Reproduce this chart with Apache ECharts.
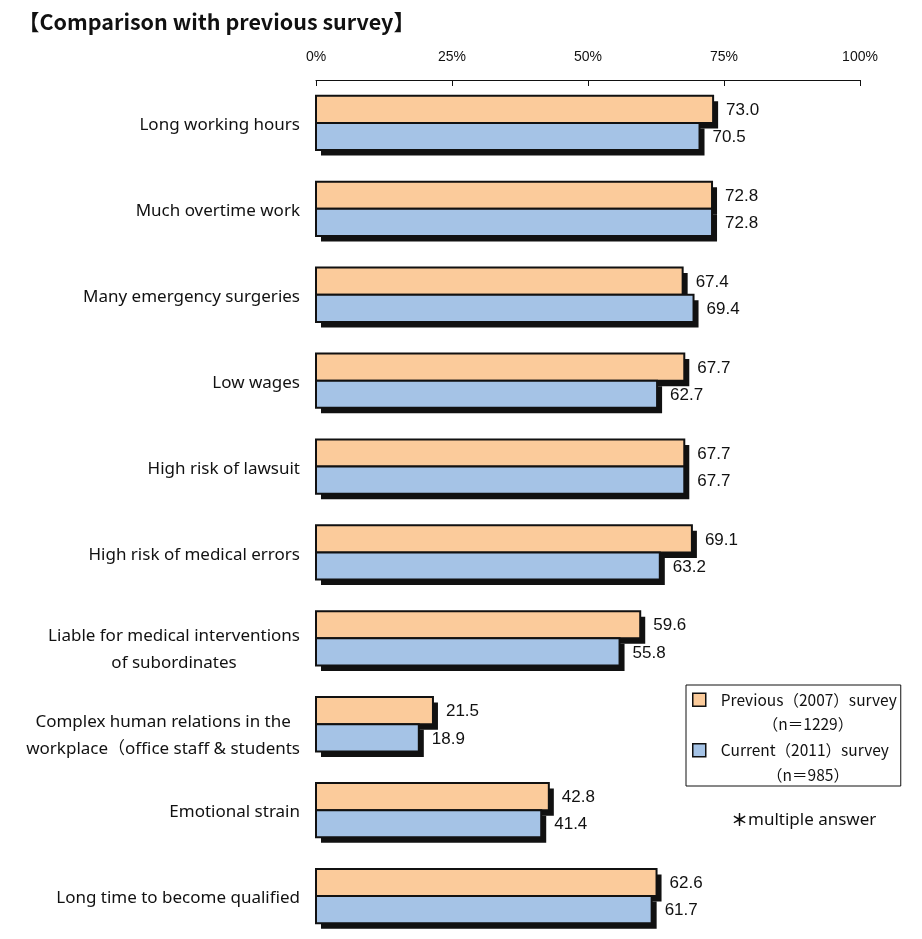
<!DOCTYPE html>
<html>
<head>
<meta charset="utf-8">
<script src="https://cdn.jsdelivr.net/npm/echarts@6/dist/echarts.min.js"></script>
<style>html,body{margin:0;padding:0;background:#fff;}#c{width:922px;height:939px;}</style>
</head>
<body>
<div id="c"></div>
<script>
const titleText = '【Comparison with previous survey】';
const categories = [
  'Long working hours',
  'Much overtime work',
  'Many emergency surgeries',
  'Low wages',
  'High risk of lawsuit',
  'High risk of medical errors',
  'Liable for medical interventions\nof subordinates',
  'Complex human relations in the\nworkplace（office staff & students',
  'Emotional strain',
  'Long time to become qualified'
];
const previous2007 = [73.0, 72.8, 67.4, 67.7, 67.7, 69.1, 59.6, 21.5, 42.8, 62.6];
const current2011 = [70.5, 72.8, 69.4, 62.7, 67.7, 63.2, 55.8, 18.9, 41.4, 61.7];
const seriesNames = ['Previous（2007）survey', 'Current（2011）survey'];
const seriesN = ['（n＝1229）', '（n＝985）'];
const xTicks = [0, 25, 50, 75, 100];
const footnoteMark = '＊';
const footnote = 'multiple answer';

const catFont = '"Noto Sans", "Noto Sans CJK JP", sans-serif';
const legFont = '"Noto Sans CJK JP", sans-serif';
const numFont = '"Liberation Sans", Arial, sans-serif';

function barSeries(name, values, color, slot) {
  return {
    name: name,
    type: 'custom',
    coordinateSystem: 'cartesian2d',
    data: values.map((v, i) => [v, i]),
    encode: { x: 0, y: 1 },
    itemStyle: { color: color, borderColor: '#111', borderWidth: 2 },
    renderItem: function (params, api) {
      const v = api.value(0), i = api.value(1);
      const p0 = api.coord([0, i]);
      const p1 = api.coord([v, i]);
      const band = api.size([0, 1])[1];
      const h = band * 0.316;
      const y = slot === 0 ? p0[1] - h : p0[1];
      const w = p1[0] - p0[0];
      return {
        type: 'group',
        children: [
          { type: 'rect', shape: { x: p0[0] + 5, y: y + 5.5, width: w, height: h }, style: { fill: '#111' } },
          { type: 'rect', shape: { x: p0[0], y: y, width: w, height: h }, style: { fill: color, stroke: '#111', lineWidth: 2 } },
          { type: 'text', style: { x: p1[0] + 13, y: y + h / 2 + 1, text: v.toFixed(1), font: '17px ' + numFont, fill: '#111', verticalAlign: 'middle', align: 'left' } }
        ]
      };
    },
    animation: false
  };
}

function catLabel(v) {
  const lines = v.split('\n');
  if (lines.length === 1) return '{c|' + v + '}';
  return lines.map(s => '{f|' + s + '}').join('\n');
}

const chart = echarts.init(document.getElementById('c'), null, { renderer: 'canvas' });
chart.setOption({
  backgroundColor: '#fff',
  animation: false,
  title: {
    text: titleText,
    left: 13,
    top: 6,
    textStyle: { fontFamily: '"Noto Sans CJK JP", sans-serif', fontWeight: 'bold', fontSize: 21.5, color: '#111' }
  },
  grid: { left: 316, right: 62, top: 80, height: 870 },
  xAxis: {
    type: 'value',
    position: 'top',
    min: xTicks[0],
    max: xTicks[xTicks.length - 1],
    interval: 25,
    axisLine: { show: true, lineStyle: { color: '#111', width: 1 } },
    axisTick: { show: true, inside: true, length: 6, lineStyle: { color: '#111' } },
    axisLabel: { formatter: '{value}%', margin: 16, fontFamily: numFont, fontSize: 14, color: '#111' },
    splitLine: { show: false }
  },
  yAxis: {
    type: 'category',
    data: categories,
    inverse: true,
    axisLine: { show: false },
    axisTick: { show: false },
    axisLabel: {
      margin: 16,
      color: '#111',
      fontFamily: catFont,
      fontSize: 17,
      padding: [5, 0, 0, 0],
      formatter: catLabel,
      rich: {
        c: { align: 'center', fontFamily: catFont, fontSize: 17, color: '#111', lineHeight: 27 },
        f: { align: 'center', fontFamily: catFont, fontSize: 17, color: '#111', lineHeight: 27, padding: [18, 0, 0, 0] }
      }
    }
  },
  legend: {
    orient: 'vertical',
    left: 686,
    top: 685,
    padding: [7, 4, 28, 6],
    itemGap: 35,
    itemWidth: 13,
    itemHeight: 13,
    icon: 'rect',
    borderColor: '#111',
    borderWidth: 1,
    backgroundColor: '#fff',
    selectedMode: false,
    itemStyle: { borderColor: '#111', borderWidth: 1.5 },
    textStyle: { fontFamily: legFont, fontSize: 15.5, color: '#111', padding: [0, 0, 0, 10] },
    data: seriesNames
  },
  graphic: [
    { type: 'text', x: 808, y: 724, z: 100, style: { text: seriesN[0], font: '15.5px ' + legFont, fill: '#111', align: 'center', verticalAlign: 'middle' } },
    { type: 'text', x: 808, y: 775, z: 100, style: { text: seriesN[1], font: '15.5px ' + legFont, fill: '#111', align: 'center', verticalAlign: 'middle' } },
    { type: 'text', x: 731, y: 820, style: {
        text: '{m|' + footnoteMark + '}{t|' + footnote + '}',
        verticalAlign: 'middle',
        rich: {
          m: { fontFamily: legFont, fontWeight: 'bold', fontSize: 17, fill: '#111', color: '#111' },
          t: { fontFamily: catFont, fontSize: 17, fill: '#111', color: '#111' }
        }
      } }
  ],
  series: [
    barSeries(seriesNames[0], previous2007, '#FBCB9B', 0),
    barSeries(seriesNames[1], current2011, '#A5C3E6', 1)
  ]
});
</script>
</body>
</html>
